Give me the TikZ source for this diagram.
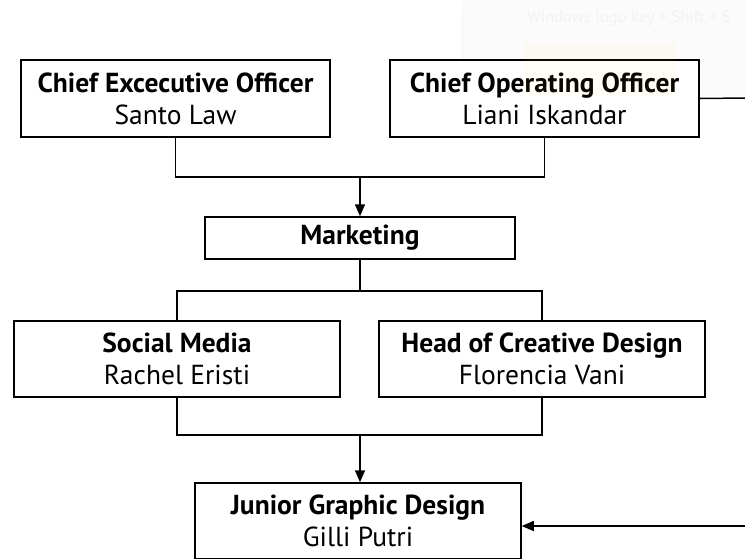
\documentclass[tikz,border=0pt]{standalone}
\usepackage{fontspec}
\setmainfont{PT Sans}
\usetikzlibrary{arrows.meta}
\begin{document}
\begin{tikzpicture}[x=1pt,y=-1pt,
  role/.style={draw=black, line width=1.5pt, fill=white, minimum width=309pt,
    minimum height=77pt, inner sep=0pt, align=center, font=\fontsize{27.5}{32}\selectfont},
  link/.style={draw=black, line width=1.5pt},
  arrowlink/.style={link, -{Triangle[width=10pt,length=12pt]}}]
  \useasboundingbox (0,0) rectangle (745,558);
  \fill[white] (0,0) rectangle (745,558);
  \begin{scope}
  \clip (0,0) rectangle (745,558);

  % faint notification panel behind the chart
  \fill[black!1.5] (462,0) rectangle (746,96);
  \draw[black!5, line width=0.8pt] (462,10) -- (462,96);
  \node[anchor=west, text=black!5, font=\fontsize{16.5}{20}\selectfont, inner sep=0pt] (note) at (527,18) {Windows logo key + Shift + S};

  % boxes
  \node[role] (ceo) at (175.5,98.5) {\textbf{Chief Excecutive Officer}\\Santo Law};
  \node[role] (coo) at (544.5,98.5) {\textbf{Chief Operating Officer}\\Liani Iskandar};
  \node[role, minimum width=310pt, minimum height=42pt] (mkt) at (360,238) {\textbf{Marketing}};
  \node[role, minimum width=326pt, minimum height=76pt] (soc) at (177,359) {\textbf{Social Media}\\Rachel Eristi};
  \node[role, minimum width=326pt, minimum height=76pt] (cre) at (542,359) {\textbf{Head of Creative Design}\\Florencia Vani};
  \node[role, minimum width=326pt, minimum height=76pt] (jun) at (358,521) {\textbf{Junior Graphic Design}\\Gilli Putri};

  % joins between levels
  \coordinate (topjoin) at (360,177);
  \coordinate (midjoin) at (360,291);
  \coordinate (lowjoin) at (360,435);
  \draw[link] (ceo.south) |- (topjoin) -| (coo.south);
  \draw[arrowlink] (topjoin) -- (mkt.north);
  \draw[link] (mkt.south) -- (midjoin);
  \draw[link] (soc.north) |- (midjoin) -| (cre.north);
  \draw[link] (soc.south) |- (lowjoin) -| (cre.south);
  \draw[arrowlink] (lowjoin) -- (lowjoin |- jun.north);

  % lines leaving to the right
  \coordinate (cooout) at (746,98);
  \coordinate (junin) at (746,526);
  \draw[link] (coo.east) -- (cooout);
  \draw[arrowlink] (junin) -- (jun.east |- junin);

  % pale highlight of the notification, over the chart
  \fill[orange!30!yellow, opacity=0.04] (524,43) rectangle (676,95);
  \end{scope}
\end{tikzpicture}
\end{document}
